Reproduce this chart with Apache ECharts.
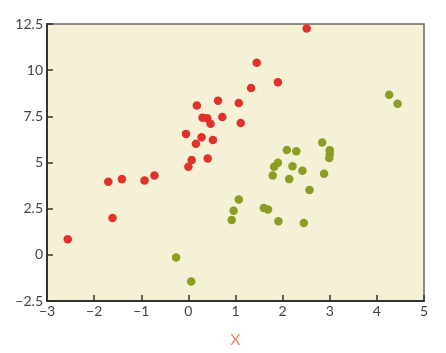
<!DOCTYPE html>
<html>
<head>
<meta charset="utf-8">
<script src="https://cdn.jsdelivr.net/npm/echarts@6/dist/echarts.min.js"></script>
<style>html,body{margin:0;padding:0;background:#fff;}#c{width:446px;height:353px;}</style>
</head>
<body>
<div id="c"></div>
<script>
var redX = [2.51, 1.45, 1.90, 1.33, 0.63, 1.07, 0.18, 0.30, 0.40, 0.47, 0.72, 1.11, -0.05, 0.28, 0.52, 0.16, 0.07, 0.41, 0.00, -0.72, -0.93, -1.41, -1.70, -1.61, -2.56];
var redY = [12.25, 10.40, 9.34, 9.03, 8.35, 8.22, 8.09, 7.43, 7.39, 7.10, 7.47, 7.14, 6.55, 6.37, 6.22, 6.01, 5.14, 5.22, 4.77, 4.30, 4.02, 4.10, 3.96, 2.00, 0.85];
var greenX = [2.84, 3.00, 3.00, 2.99, 2.09, 2.29, 1.90, 1.82, 2.21, 2.42, 2.88, 1.79, 2.14, 2.57, 1.07, 0.96, 0.92, 1.60, 1.69, 1.91, 2.45, -0.26, 0.06, 4.26, 4.44];
var greenY = [6.08, 5.67, 5.45, 5.25, 5.68, 5.61, 4.98, 4.77, 4.80, 4.55, 4.39, 4.30, 4.10, 3.51, 3.00, 2.39, 1.89, 2.54, 2.46, 1.82, 1.73, -0.15, -1.45, 8.67, 8.18];
var xTicks = [-3, -2, -1, 0, 1, 2, 3, 4, 5];
var yTicks = [-2.5, 0, 2.5, 5, 7.5, 10, 12.5];
var xName = 'X';

function pairs(xs, ys) { return xs.map(function (v, i) { return [v, ys[i]]; }); }
function minus(v) { return String(v).replace('-', '\u2212'); }

var chart = echarts.init(document.getElementById('c'));
chart.setOption({
  animation: false,
  grid: {
    left: 47, right: 22, top: 24, bottom: 51,
    show: true, backgroundColor: '#f4f1d7', borderColor: '#666', borderWidth: 1.5
  },
  xAxis: {
    type: 'value', min: xTicks[0], max: xTicks[xTicks.length - 1], interval: 1,
    name: xName, nameLocation: 'middle', nameGap: 31,
    nameTextStyle: { color: '#f2846c', fontSize: 16, fontFamily: 'Lato' },
    axisLine: { show: true, onZero: false, lineStyle: { color: '#333', width: 2 } },
    axisTick: { show: true, inside: true, length: 6, lineStyle: { color: '#333', width: 1.5 } },
    axisLabel: { color: '#444', fontSize: 14, fontFamily: 'Lato', margin: 3, formatter: minus },
    splitLine: { show: false }
  },
  yAxis: {
    type: 'value', min: yTicks[0], max: yTicks[yTicks.length - 1], interval: 2.5,
    axisLine: { show: true, onZero: false, lineStyle: { color: '#333', width: 2 } },
    axisTick: { show: true, inside: true, length: 6, lineStyle: { color: '#333', width: 1.5 } },
    axisLabel: { color: '#444', fontSize: 14, fontFamily: 'Lato', margin: 4, formatter: minus },
    splitLine: { show: false }
  },
  series: [
    { type: 'scatter', data: pairs(redX, redY), symbolSize: 8.5, itemStyle: { color: '#e1312a', opacity: 1 } },
    { type: 'scatter', data: pairs(greenX, greenY), symbolSize: 8.5, itemStyle: { color: '#8b9d22', opacity: 1 } }
  ]
});
</script>
</body>
</html>
